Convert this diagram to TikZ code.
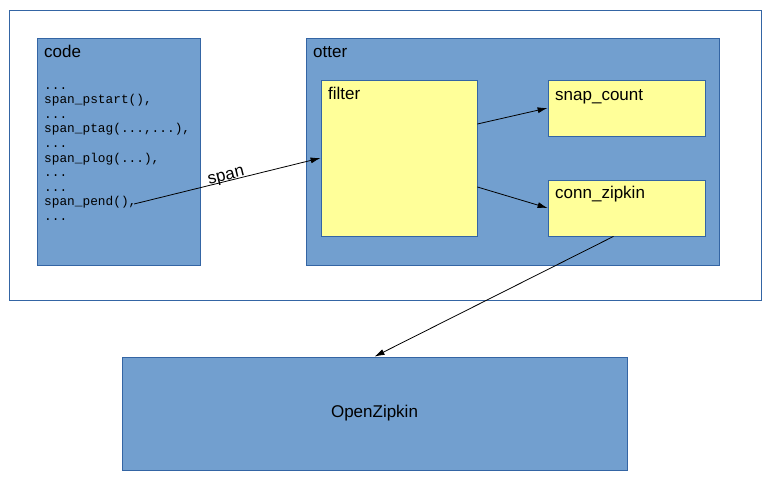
\documentclass[tikz,border=0pt]{standalone}
\usepackage{fontspec}
\setmainfont{Liberation Sans}
\setmonofont{Liberation Mono}
\usetikzlibrary{arrows.meta,calc}
\definecolor{boxblue}{HTML}{729FCF}
\definecolor{edgeblue}{HTML}{3465A4}
\definecolor{note}{HTML}{FFFF99}
\tikzset{
  bluebox/.style={draw=edgeblue,fill=boxblue,line width=0.8pt},
  yellowbox/.style={draw=edgeblue,fill=note,line width=0.8pt},
  lbl/.style={anchor=base west,inner sep=0pt,font=\fontsize{17}{20}\selectfont},
  arr/.style={-{Latex[length=10pt,width=6pt]},line width=0.8pt,black}
}
\begin{document}
\begin{tikzpicture}[x=1pt,y=-1pt]
\useasboundingbox (0,0) rectangle (770,490);
\fill[white] (0,0) rectangle (770,490);
% outer frame
\draw[draw=edgeblue,line width=0.7pt] (9,10) rectangle (761,300);
% boxes
\draw[bluebox] (37,38) rectangle (200,265);
\node[lbl] (codelbl) at (44,57) {code};
\node[anchor=north west,inner sep=0pt,align=left,font=\ttfamily\fontsize{12.8}{14.6}\selectfont] (codetext) at (44,87)
{...\\span\_pstart(),\\...\\span\_ptag(...,...),\\...\\span\_plog(...),\\...\\...\\span\_pend(),\\...};
\draw[bluebox] (306,38) rectangle (719,265);
\node[lbl] (otterlbl) at (313,57) {otter};
\node[yellowbox,minimum width=156pt,minimum height=156pt,inner sep=0pt] (filter) at (399,158) {};
\node[lbl] at (328,99) {filter};
\node[yellowbox,minimum width=157pt,minimum height=56pt,inner sep=0pt] (snap) at (626.5,108) {};
\node[lbl] at (555,100) {snap\_count};
\node[yellowbox,minimum width=157pt,minimum height=56pt,inner sep=0pt] (conn) at (626.5,208) {};
\node[lbl] at (555,198) {conn\_zipkin};
\node[bluebox,minimum width=505pt,minimum height=113pt,inner sep=0pt,font=\fontsize{17}{20}\selectfont] (oz) at (374.5,413.5) {OpenZipkin};
% connectors
\coordinate (spanstart) at (134,204);
\draw[arr] (spanstart) -- node[sloped,anchor=south,inner sep=0pt,yshift=-3pt,font=\fontsize{17}{20}\selectfont] {span} (filter.west);
\draw[arr] ($(filter.east)+(0,-34)$) -- (snap.west);
\draw[arr] ($(filter.east)+(0,29)$) -- (conn.west);
\draw[arr] ($(conn.south)+(-13,0)$) -- (oz.north);
\end{tikzpicture}
\end{document}
